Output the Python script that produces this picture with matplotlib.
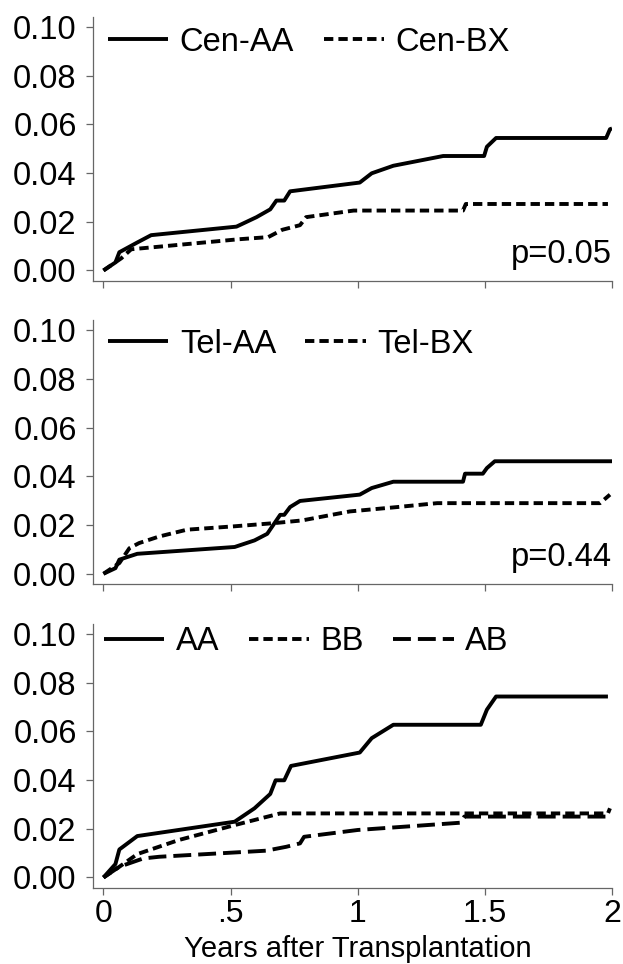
import matplotlib
matplotlib.use("Agg")
import matplotlib.pyplot as plt

plt.rcParams['font.family'] = ['Liberation Sans', 'DejaVu Sans']

# ---- data (years, cumulative incidence) ----
cen_aa_x = [0, 0.047, 0.0625, 0.133, 0.1875, 0.523, 0.602, 0.656, 0.68, 0.711, 0.734, 1.008, 1.055, 1.14, 1.336, 1.497, 1.508, 1.544, 1.977, 1.992, 2.0]
cen_aa_y = [0, 0.0033, 0.0075, 0.0115, 0.0145, 0.018, 0.0219, 0.0251, 0.0287, 0.0287, 0.0325, 0.0361, 0.0399, 0.043, 0.047, 0.047, 0.0508, 0.0544, 0.0544, 0.058, 0.0583]
cen_bx_x = [0, 0.07, 0.109, 0.53, 0.648, 0.703, 0.773, 0.797, 0.984, 1.414, 1.425, 1.984]
cen_bx_y = [0, 0.005, 0.0087, 0.0128, 0.0137, 0.0167, 0.0186, 0.0219, 0.0246, 0.0246, 0.0273, 0.0273]

tel_aa_x = [0, 0.047, 0.0625, 0.133, 0.516, 0.594, 0.644, 0.695, 0.711, 0.734, 0.773, 1.008, 1.055, 1.14, 1.414, 1.422, 1.492, 1.508, 1.539, 2.0]
tel_aa_y = [0, 0.0023, 0.0058, 0.0082, 0.011, 0.0137, 0.0164, 0.0242, 0.0242, 0.0274, 0.0299, 0.0325, 0.0352, 0.0378, 0.0378, 0.0411, 0.0411, 0.0434, 0.0462, 0.0462]
tel_bx_x = [0, 0.0625, 0.102, 0.14, 0.219, 0.328, 0.516, 0.672, 0.781, 0.969, 1.156, 1.3125, 1.953, 1.992]
tel_bx_y = [0, 0.0044, 0.0105, 0.0126, 0.0153, 0.0181, 0.0195, 0.0208, 0.0219, 0.0256, 0.0274, 0.029, 0.029, 0.0325]

aa_x = [0, 0.047, 0.0625, 0.133, 0.516, 0.594, 0.656, 0.677, 0.711, 0.7375, 1.008, 1.055, 1.14, 1.484, 1.508, 1.544, 1.984]
aa_y = [0, 0.0055, 0.0115, 0.017, 0.0229, 0.0284, 0.0343, 0.0399, 0.0399, 0.0458, 0.0513, 0.0572, 0.0627, 0.0627, 0.0689, 0.0743, 0.0743]
bb_x = [0, 0.0625, 0.133, 0.297, 0.516, 0.594, 0.695, 1.984, 1.992]
bb_y = [0, 0.0044, 0.0096, 0.0154, 0.0215, 0.0236, 0.0263, 0.0263, 0.0284]
ab_x = [0, 0.0625, 0.156, 0.219, 0.64, 0.719, 0.773, 0.789, 1.0, 1.406, 1.419, 1.992]
ab_y = [0, 0.0044, 0.0078, 0.0085, 0.011, 0.0126, 0.014, 0.0167, 0.0195, 0.0225, 0.025, 0.025]

yticks = [0.0, 0.02, 0.04, 0.06, 0.08, 0.10]
ytick_labels = ["0.00", "0.02", "0.04", "0.06", "0.08", "0.10"]
xticks = [0, 0.5, 1, 1.5, 2]
xtick_labels = ["0", ".5", "1", "1.5", "2"]
p_values = ["p=0.05", "p=0.44", None]
p_y = 0.0065
xlabel = "Years after Transplantation"

FS = 23.5
LW = 2.8
SHORT = (2.4, 1.3)
LONG = (4.6, 1.8)
GRAY = "#666666"

fig = plt.figure(figsize=(6.23, 9.64), dpi=100)
W, H = 623.0, 964.0
left = 93.3 / W
width = (612.0 - 93.3) / W
bottoms = [964 - 280.7, 964 - 584.0, 964 - 887.7]
height = 264.0 / H

panels = [
    [(cen_aa_x, cen_aa_y, "Cen-AA", None), (cen_bx_x, cen_bx_y, "Cen-BX", SHORT)],
    [(tel_aa_x, tel_aa_y, "Tel-AA", None), (tel_bx_x, tel_bx_y, "Tel-BX", SHORT)],
    [(aa_x, aa_y, "AA", None), (bb_x, bb_y, "BB", SHORT), (ab_x, ab_y, "AB", LONG)],
]
leg_y = [1 - 25.7 / 264, 1 - 24.3 / 264, 1 - 18.3 / 264]
leg_x = [14.7 / 518.7, 14.7 / 518.7, 10.7 / 518.7]

for i, series in enumerate(panels):
    ax = fig.add_axes([left, bottoms[i] / H, width, height])
    for xs, ys, lab, dash in series:
        ln, = ax.plot(xs, ys, color="black", lw=LW, label=lab,
                      solid_joinstyle="round", solid_capstyle="butt")
        if dash is not None:
            ln.set_dashes(dash)
    ax.set_xlim(-0.04, 2.0)
    ax.set_ylim(-0.0042, 0.1042)
    ax.set_yticks(yticks)
    ax.set_yticklabels(ytick_labels)
    ax.set_xticks(xticks)
    for s in ["top", "right"]:
        ax.spines[s].set_visible(False)
    for s in ["left", "bottom"]:
        ax.spines[s].set_color(GRAY)
        ax.spines[s].set_linewidth(0.9)
    ax.tick_params(axis="both", direction="out", length=5, width=0.9,
                   color=GRAY, labelsize=FS, pad=7)
    if i == 2:
        ax.set_xticklabels(xtick_labels)
        ax.tick_params(axis="x", pad=3, labelsize=23)
        ax.set_xlabel(xlabel, fontsize=21, va="bottom")
        ax.xaxis.set_label_coords(0.5 + (357.6 - 352.6) / 518.7, -(76.3 - 1.0) / 264.0)
    else:
        ax.set_xticklabels([])
    ax.legend(loc="center left", bbox_to_anchor=(leg_x[i], leg_y[i]),
              ncol=len(series), frameon=False, fontsize=FS,
              handlelength=1.85, handletextpad=0.35, columnspacing=0.9,
              borderpad=0, borderaxespad=0)
    if p_values[i]:
        ax.text(2.0, p_y, p_values[i], ha="right", va="center", fontsize=FS)

fig.savefig("out.png", dpi=100)
